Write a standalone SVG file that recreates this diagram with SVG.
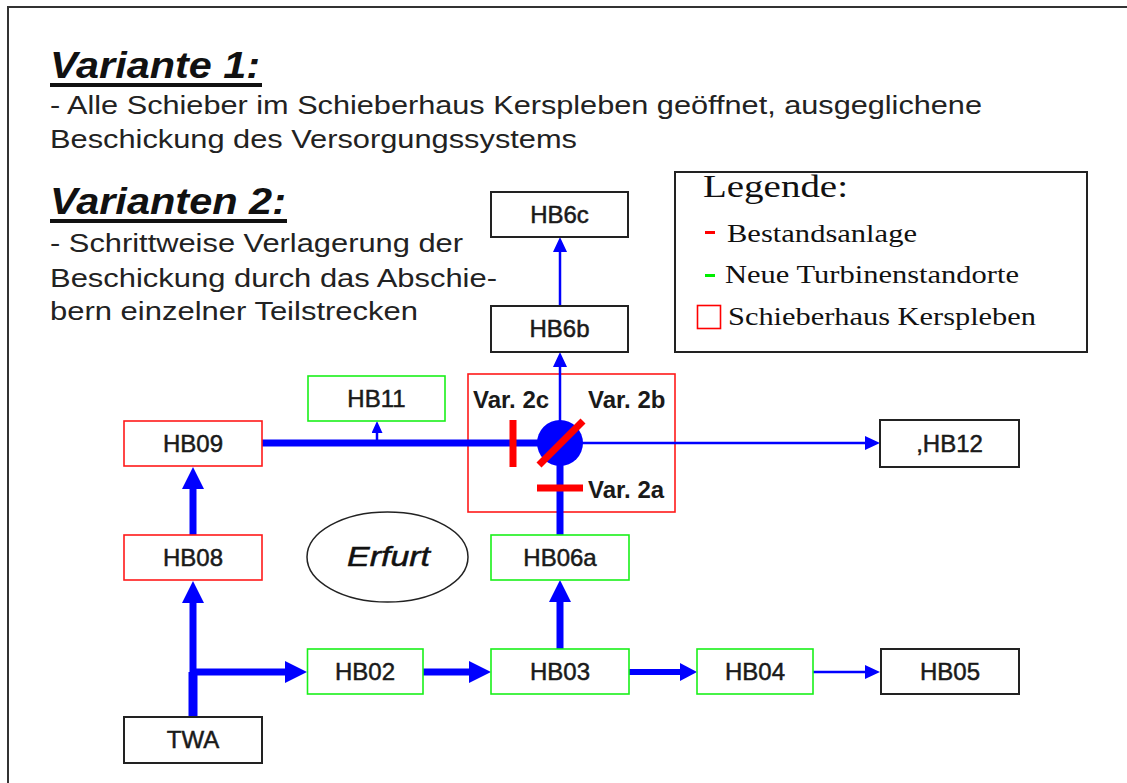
<svg xmlns="http://www.w3.org/2000/svg" width="1127" height="783" viewBox="0 0 1127 783">
<defs>
<style>
.bg{fill:#fff}
.frame{fill:none;stroke:#333;stroke-width:2}
.box{fill:#fff;stroke-width:2}
.blk{stroke:#222}
.red{stroke:#ff1a1a;stroke-width:1.6}
.grn{stroke:#19f019;stroke-width:1.6}
.lbl{font-family:"Liberation Sans",Arial,sans-serif;font-size:24px;fill:#1a1a1a;stroke:#1a1a1a;stroke-width:0.5;text-anchor:middle}
.body{font-family:"Liberation Sans",Arial,sans-serif;font-size:26px;fill:#222}
.title{font-family:"Liberation Sans",Arial,sans-serif;font-size:36px;font-weight:bold;font-style:italic;fill:#111}
.leg{font-family:"Liberation Serif","Times New Roman",serif;fill:#111}
.var{font-family:"Liberation Sans",Arial,sans-serif;font-weight:bold;font-size:24px;fill:#1a1a1a}
.thick{stroke:#0000ff;stroke-width:7;fill:none}
.mid{stroke:#0000ff;stroke-width:6;fill:none}
.thin{stroke:#0000ff;stroke-width:2.5;fill:none}
.bar{stroke:#ff0000;stroke-width:7;fill:none}
</style>
<marker id="big" markerUnits="userSpaceOnUse" markerWidth="22" markerHeight="22" viewBox="0 0 22 22" refX="0" refY="11" orient="auto"><path d="M0,0 L22,11 L0,22 z" fill="#0000ff"/></marker>
<marker id="med" markerUnits="userSpaceOnUse" markerWidth="17" markerHeight="18" viewBox="0 0 17 18" refX="0" refY="9" orient="auto"><path d="M0,0 L17,9 L0,18 z" fill="#0000ff"/></marker>
<marker id="sm" markerUnits="userSpaceOnUse" markerWidth="15" markerHeight="14" viewBox="0 0 15 14" refX="0" refY="7" orient="auto"><path d="M0,0 L15,7 L0,14 z" fill="#0000ff"/></marker>
<marker id="xs" markerUnits="userSpaceOnUse" markerWidth="12" markerHeight="11" viewBox="0 0 12 11" refX="0" refY="5.5" orient="auto"><path d="M0,0 L12,5.5 L0,11 z" fill="#0000ff"/></marker>
</defs>
<rect class="bg" x="0" y="0" width="1127" height="783"/>
<path class="frame" d="M8,790 L8,7 L1135,7"/>

<g id="text-block">
<text class="title" x="50" y="78" textLength="210" lengthAdjust="spacingAndGlyphs">Variante 1:</text>
<rect x="50" y="83" width="212" height="4" fill="#111"/>
<text class="body" x="50" y="114" textLength="932" lengthAdjust="spacingAndGlyphs">- Alle Schieber im Schieberhaus Kerspleben geöffnet, ausgeglichene</text>
<text class="body" x="50" y="148" textLength="527" lengthAdjust="spacingAndGlyphs">Beschickung des Versorgungssystems</text>
<text class="title" x="50" y="214" textLength="236" lengthAdjust="spacingAndGlyphs">Varianten 2:</text>
<rect x="50" y="219" width="237" height="4" fill="#111"/>
<text class="body" x="50" y="252" textLength="413" lengthAdjust="spacingAndGlyphs">- Schrittweise Verlagerung der</text>
<text class="body" x="50" y="287" textLength="447" lengthAdjust="spacingAndGlyphs">Beschickung durch das Abschie-</text>
<text class="body" x="50" y="320" textLength="368" lengthAdjust="spacingAndGlyphs">bern einzelner Teilstrecken</text>
</g>

<g id="legend">
<rect class="box blk" x="675" y="172" width="412" height="180"/>
<text class="leg" x="703" y="197" font-size="32" textLength="145" lengthAdjust="spacingAndGlyphs">Legende:</text>
<rect x="705" y="231" width="10" height="3" fill="#ff0000"/>
<text class="leg" x="727" y="242" font-size="26" textLength="190" lengthAdjust="spacingAndGlyphs">Bestandsanlage</text>
<rect x="705" y="274" width="10" height="3" fill="#00ee00"/>
<text class="leg" x="725" y="283" font-size="26" textLength="294" lengthAdjust="spacingAndGlyphs">Neue Turbinenstandorte</text>
<rect x="697.5" y="305.5" width="23" height="23" fill="none" stroke="#ff0000" stroke-width="1.6"/>
<text class="leg" x="728" y="325" font-size="26" textLength="308" lengthAdjust="spacingAndGlyphs">Schieberhaus Kerspleben</text>
</g>

<g id="schieberhaus">
<rect x="468" y="374" width="207" height="138" fill="none" stroke="#ff1a1a" stroke-width="1.6"/>
</g>

<g id="connectors">
<line class="thick" x1="193" y1="717" x2="193" y2="603" marker-end="url(#big)"/>
<line x1="193" y1="672" x2="193" y2="717" stroke="#0000ff" stroke-width="9"/>
<line class="thick" x1="193" y1="672" x2="285" y2="672" marker-end="url(#big)"/>
<line class="thick" x1="423" y1="672" x2="469" y2="672" marker-end="url(#big)"/>
<line class="mid" x1="629" y1="672" x2="680" y2="672" marker-end="url(#med)"/>
<line class="thin" x1="813" y1="672" x2="865" y2="672" marker-end="url(#sm)"/>
<line class="thick" x1="560" y1="649" x2="560" y2="602" marker-end="url(#big)"/>
<line class="thick" x1="560" y1="535" x2="560" y2="443"/>
<line class="thick" x1="193" y1="535" x2="193" y2="489" marker-end="url(#big)"/>
<line class="thick" x1="262" y1="443" x2="560" y2="443"/>
<line class="thin" x1="377" y1="443" x2="377" y2="433" marker-end="url(#xs)"/>
<line class="thin" x1="560" y1="443" x2="865" y2="443" marker-end="url(#sm)"/>
<line class="thin" x1="560" y1="443" x2="560" y2="367" marker-end="url(#sm)"/>
<line class="thin" x1="560" y1="306" x2="560" y2="252" marker-end="url(#sm)"/>
</g>

<g id="valves">
<circle cx="560" cy="443" r="23" fill="#0000ff"/>
<line class="bar" x1="513" y1="420" x2="513" y2="467"/>
<line class="bar" x1="537" y1="488" x2="583" y2="488"/>
<line class="bar" x1="539" y1="465" x2="583" y2="421" stroke-width="6"/>
<text class="var" x="473" y="408">Var. 2c</text>
<text class="var" x="588" y="408">Var. 2b</text>
<text class="var" x="588" y="498">Var. 2a</text>
</g>

<g id="HB6c"><rect class="box blk" x="491" y="192" width="137" height="45"/><text class="lbl" x="559.5" y="223">HB6c</text></g>
<g id="HB6b"><rect class="box blk" x="491" y="306" width="137" height="46"/><text class="lbl" x="559.5" y="337">HB6b</text></g>
<g id="HB11"><rect class="box grn" x="308" y="376" width="137" height="45"/><text class="lbl" x="376.5" y="407">HB11</text></g>
<g id="HB09"><rect class="box red" x="124" y="421" width="138" height="45"/><text class="lbl" x="193" y="452">HB09</text></g>
<g id="HB12"><rect class="box blk" x="880" y="420" width="139" height="47"/><text class="lbl" x="949.5" y="452">,HB12</text></g>
<g id="HB08"><rect class="box red" x="124" y="535" width="138" height="45"/><text class="lbl" x="193" y="566">HB08</text></g>
<g id="Erfurt"><ellipse cx="387.5" cy="557" rx="80.5" ry="45" fill="#fff" stroke="#222" stroke-width="1.5"/><text x="347" y="566" font-family="'Liberation Sans',Arial,sans-serif" font-size="27" font-style="italic" fill="#111" stroke="#111" stroke-width="0.5" textLength="83" lengthAdjust="spacingAndGlyphs">Erfurt</text></g>
<g id="HB06a"><rect class="box grn" x="491" y="535" width="138" height="45"/><text class="lbl" x="560" y="566">HB06a</text></g>
<g id="HB02"><rect class="box grn" x="307.5" y="649" width="115.5" height="45"/><text class="lbl" x="365" y="680">HB02</text></g>
<g id="HB03"><rect class="box grn" x="491" y="649" width="138" height="45"/><text class="lbl" x="560" y="680">HB03</text></g>
<g id="HB04"><rect class="box grn" x="697" y="649" width="116" height="45"/><text class="lbl" x="755" y="680">HB04</text></g>
<g id="HB05"><rect class="box blk" x="881" y="649" width="138" height="45"/><text class="lbl" x="950" y="680">HB05</text></g>
<g id="TWA"><rect class="box blk" x="124" y="717" width="138" height="46"/><text class="lbl" x="193" y="748">TWA</text></g>
</svg>
